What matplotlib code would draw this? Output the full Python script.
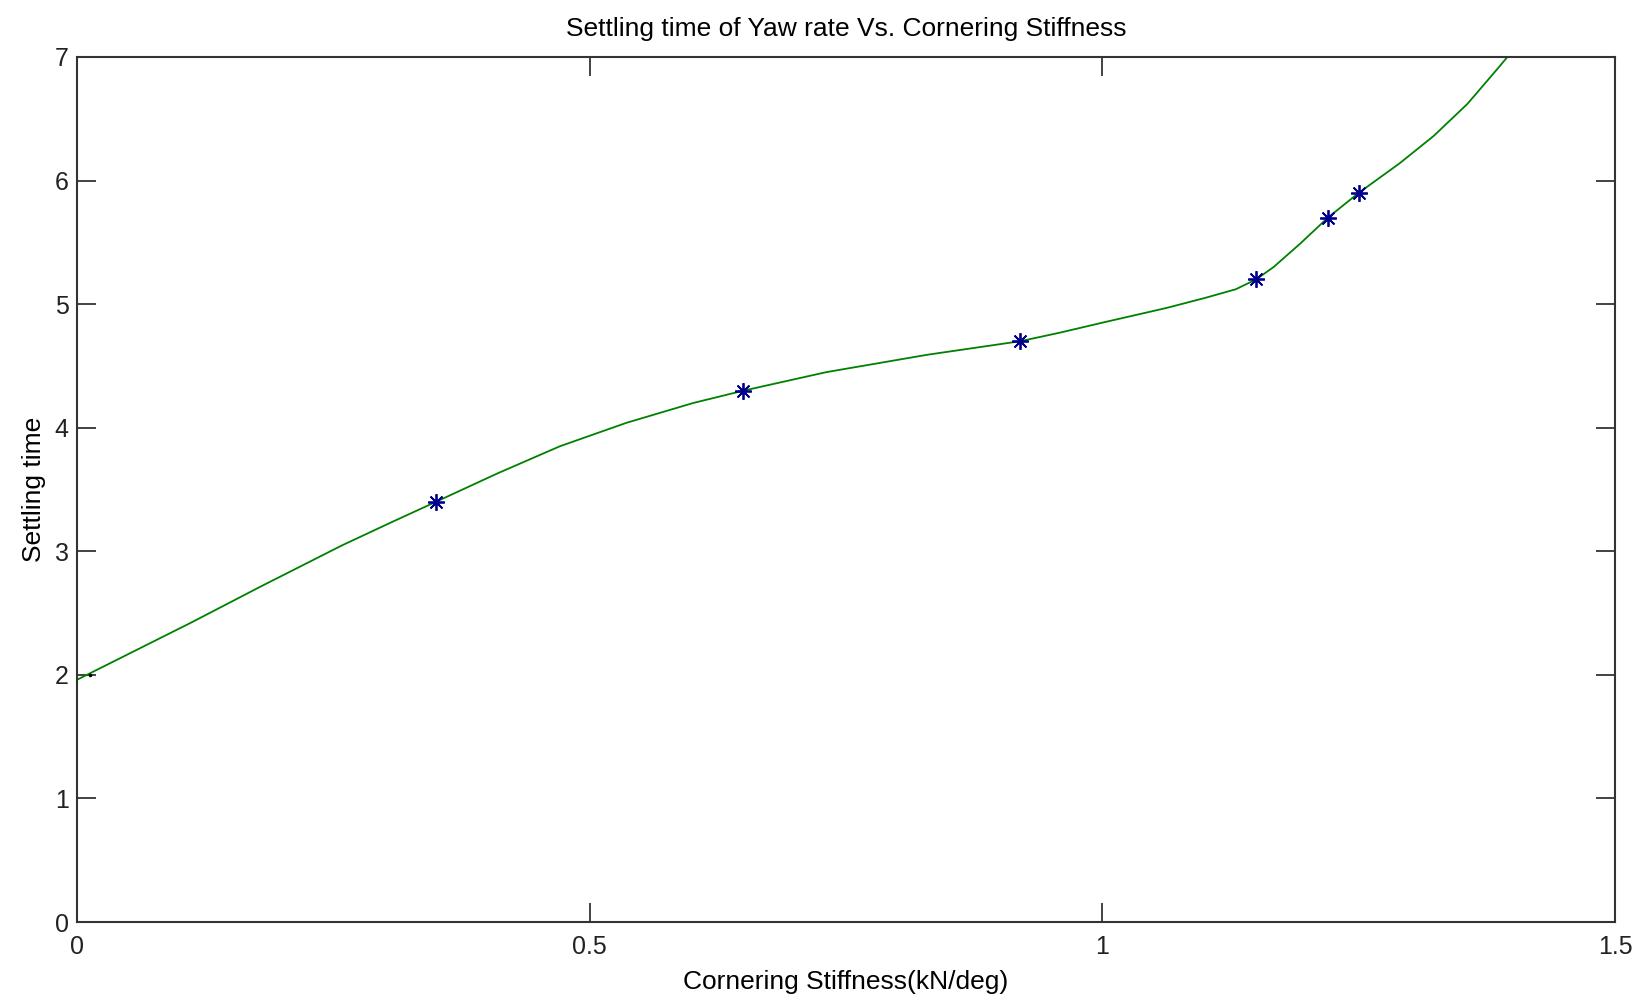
import matplotlib
matplotlib.use("Agg")
import matplotlib.pyplot as plt

# Curve
curve_x = [0.0, 0.113, 0.178, 0.259, 0.308, 0.35, 0.41, 0.471, 0.536, 0.601, 0.65,
           0.731, 0.829, 0.92, 0.959, 1.0, 1.063, 1.1, 1.13, 1.15, 1.167, 1.193, 1.22,
           1.25, 1.29, 1.323, 1.356, 1.387, 1.42]
curve_y = [1.96, 2.43, 2.71, 3.05, 3.24, 3.40, 3.63, 3.85, 4.04, 4.20, 4.30,
           4.45, 4.59, 4.70, 4.77, 4.85, 4.97, 5.05, 5.12, 5.20, 5.30, 5.49, 5.70,
           5.90, 6.14, 6.36, 6.62, 6.92, 7.25]

# Marked points
pts_x = [0.35, 0.65, 0.92, 1.15, 1.22, 1.25]
pts_y = [3.40, 4.30, 4.70, 5.20, 5.70, 5.90]

x_ticks = [0, 0.5, 1, 1.5]
x_tick_labels = ["0", "0.5", "1", "1.5"]
y_ticks = [0, 1, 2, 3, 4, 5, 6, 7]

plt.rcParams['font.family'] = ['Liberation Sans', 'DejaVu Sans']

fig = plt.figure(figsize=(16.41, 9.99), dpi=100)
ax = fig.add_axes([77/1641, 1-922/999, (1615-77)/1641, (922-57)/999])

ax.plot(curve_x, curve_y, color=(0.0, 0.5, 0.0), linewidth=1.3)
ax.plot(pts_x, pts_y, linestyle='none', marker=(8, 2, 0), markersize=12,
        color=(0.0, 0.0, 0.55), markeredgewidth=1.3)
ax.plot([0.013], [2.0], linestyle='none', marker='.', markersize=3, color='black')

ax.set_xlim(0, 1.5)
ax.set_ylim(0, 7)
ax.set_xticks(x_ticks)
ax.set_xticklabels(x_tick_labels)
ax.set_yticks(y_ticks)
ax.tick_params(direction='in', length=14, width=1.2, top=True, right=True,
               labelsize=18, colors='#222222')
ax.tick_params(axis='x', pad=9)
ax.tick_params(axis='y', pad=6)
for s in ax.spines.values():
    s.set_linewidth(1.5)
    s.set_color('#333333')

ax.set_title("Settling time of Yaw rate Vs. Cornering Stiffness", fontsize=19, pad=15)
ax.set_xlabel("Cornering Stiffness(kN/deg)", fontsize=19, labelpad=8)
ax.set_ylabel("Settling time", fontsize=19, labelpad=6)

fig.savefig("out.png", dpi=100)
